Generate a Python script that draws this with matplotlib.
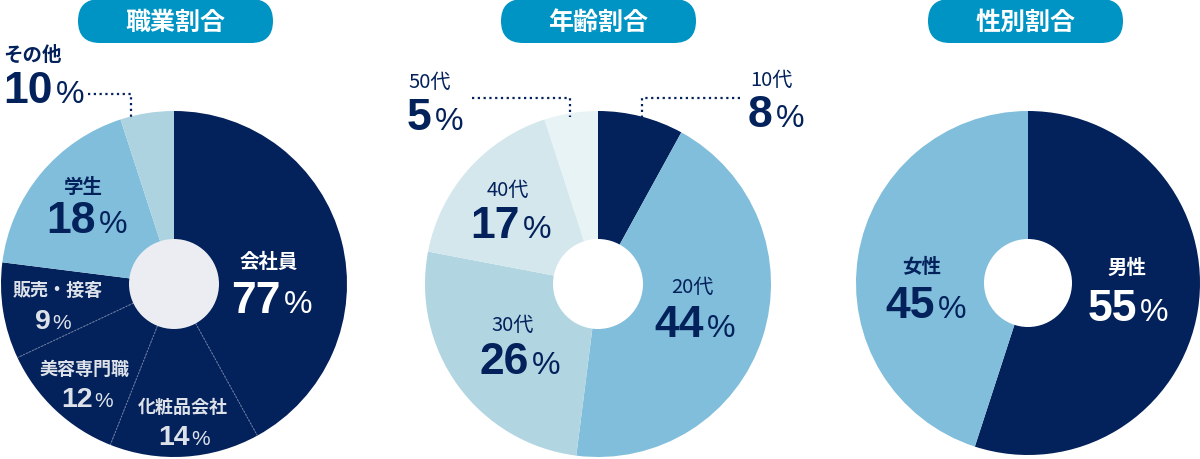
import matplotlib
matplotlib.use('Agg')
import matplotlib.pyplot as plt
import numpy as np
from matplotlib.patches import FancyBboxPatch, Circle

# ---- data ----
titles = ['職業割合', '年齢割合', '性別割合']

job_labels = ['会社員', '化粧品会社', '美容専門職', '販売・接客', '学生', 'その他']
job_shares = [42, 14, 12, 9, 18, 5]          # slice sizes as drawn
job_values = ['77', '14', '12', '9', '18', '10']  # printed numbers

age_labels = ['10代', '20代', '30代', '40代', '50代']
age_shares = [8, 44, 26, 17, 5]

sex_labels = ['男性', '女性']
sex_shares = [55, 45]

# ---- style ----
NAVY = '#03215a'
BLUE = '#80bedb'
PILL = '#0094c4'
SUB = '#dde1e9'
job_colors = [NAVY, NAVY, NAVY, NAVY, BLUE, '#add3e0']
age_colors = [NAVY, BLUE, '#b1d5e1', '#d3e7ed', '#e8f3f6']
sex_colors = [NAVY, BLUE]

plt.rcParams['font.family'] = ['Noto Sans CJK JP', 'DejaVu Sans']

fig = plt.figure(figsize=(12, 4.6), dpi=100)
ax = fig.add_axes([0, 0, 1, 1])
renderer = fig.canvas.get_renderer()

centers = [(174, 285), (598, 285), (1028, 284)]
radii = [173, 173, 172]
holes = [45, 45, 44]


def donut(shares, colors, k):
    ax.pie(shares, colors=colors, startangle=-90, counterclock=True,
           center=centers[k], radius=radii[k], frame=True,
           wedgeprops=dict(linewidth=0))


donut(job_shares, job_colors, 0)
donut(age_shares, age_colors, 1)
donut(sex_shares, sex_colors, 2)

# dotted separators inside the 会社員 block
cx, cy = centers[0]
cum = np.cumsum(job_shares)[:3]
for c in cum:
    a = np.deg2rad(-90 + 360 * c / 100)
    ax.plot([cx + holes[0] * np.cos(a), cx + radii[0] * np.cos(a)],
            [cy + holes[0] * np.sin(a), cy + radii[0] * np.sin(a)],
            color='#6a7ca3', lw=0.8, ls=(0, (1.5, 1.5)), zorder=3)

# holes
hole_colors = ['#ebedf2', 'white', 'white']
for k in range(3):
    ax.add_patch(Circle(centers[k], holes[k], color=hole_colors[k], lw=0, zorder=4))

# title pills
pill_x = [78, 501, 928]
for k, t in enumerate(titles):
    ax.add_patch(FancyBboxPatch((pill_x[k], 0), 195, 44,
                                boxstyle='round,pad=0,rounding_size=22',
                                fc=PILL, ec='none', zorder=5))
    ax.text(pill_x[k] + 97.5, 23, t, ha='center', va='center', color='white',
            fontsize=18, fontweight='bold', zorder=6)

# leader lines
dot = dict(color=NAVY, lw=1.6, ls=(0, (1, 1.6)), zorder=3)
ax.plot([88, 131, 131], [95, 95, 120], **dot)
ax.plot([472, 570, 570], [99, 99, 118], **dot)
ax.plot([740, 642, 642], [99, 99, 118], **dot)


def pct(x, y, num, color, big=True, align='center'):
    s1, s2 = (32, 23) if big else (20.5, 15)
    t1 = ax.text(0, y, num, ha='left', va='baseline', fontsize=s1,
                 fontweight='bold', color=color, family='Liberation Sans', zorder=6)
    t2 = ax.text(0, y, '%', ha='left', va='baseline', fontsize=s2,
                 color=color, family='Liberation Sans', zorder=6)
    w1 = t1.get_window_extent(renderer).width
    w2 = t2.get_window_extent(renderer).width
    gap = 3 if big else 2
    x0 = x if align == 'left' else x - (w1 + gap + w2) / 2
    t1.set_x(x0)
    t2.set_x(x0 + w1 + gap)


def cap(x, y, s, color, size=14, weight='bold', ha='center'):
    ax.text(x, y, s, ha=ha, va='center', fontsize=size, fontweight=weight,
            color=color, zorder=6)


# job labels
job_pos = [(269, 262, 272, 313), (183, 407, 184, 445), (84, 369, 87, 407),
           (58, 290, 53, 329), (83, 188, 87, 233), (3, 55, 3, 103)]
job_txt = ['white', SUB, SUB, SUB, NAVY, NAVY]
for i, (lx, ly, nx, ny) in enumerate(job_pos):
    last = i == len(job_pos) - 1
    size = 14 if i in (0, 4, 5) else 13
    cap(lx, ly, job_labels[i], job_txt[i], size=size, ha='left' if last else 'center')
    pct(nx, ny, job_values[i], job_txt[i], big=i in (0, 4, 5),
        align='left' if last else 'center')

# age labels
age_pos = [(750, 80, 748, 127, 'left'), (692, 287, 695, 337, 'center'),
           (513, 325, 520, 374, 'center'), (508, 190, 511, 238, 'center'),
           (408, 82, 407, 130, 'left')]
for i, (lx, ly, nx, ny, al) in enumerate(age_pos):
    cap(lx, ly, age_labels[i], NAVY, size=14.5, weight='normal', ha=al)
    pct(nx, ny, str(age_shares[i]), NAVY, align=al)

# gender labels
sex_pos = [(1127, 268, 1128, 321), (922, 267, 926, 318)]
sex_txt = ['white', NAVY]
for i, (lx, ly, nx, ny) in enumerate(sex_pos):
    cap(lx, ly, sex_labels[i], sex_txt[i], size=14)
    pct(nx, ny, str(sex_shares[i]), sex_txt[i])

ax.set_xlim(0, 1200)
ax.set_ylim(460, 0)
ax.set_aspect('equal')
ax.axis('off')

fig.savefig('out.png', dpi=100)
